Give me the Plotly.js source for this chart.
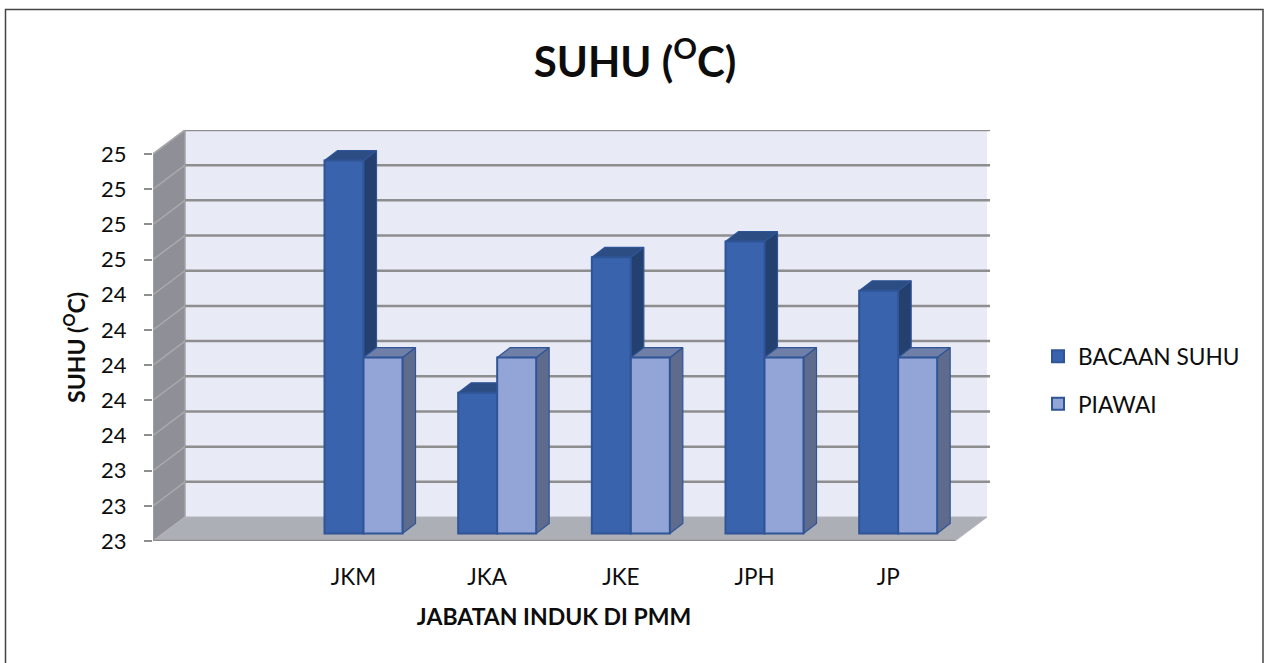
<!DOCTYPE html>
<html>
<head>
<meta charset="utf-8">
<script src="https://cdn.plot.ly/plotly-3.0.1.min.js"></script>
<style>html,body{margin:0;padding:0;background:#fff;overflow:hidden}</style>
</head>
<body>
<div id="chart" style="width:1265px;height:663px"></div>
<script>
// ---- data ----
const categories = ["", "JKM", "JKA", "JKE", "JPH", "JP"];
const bacaanSuhu = [null, 25.12, 23.8, 24.57, 24.66, 24.38];
const piawai = [null, 24, 24, 24, 24, 24];
const yTickVals = [23, 23.2, 23.4, 23.6, 23.8, 24, 24.2, 24.4, 24.6, 24.8, 25, 25.2];
const yTickText = ["23", "23", "23", "24", "24", "24", "24", "24", "25", "25", "25", "25"];

// ---- pseudo-3D geometry (pixels) ----
const W = 1265, H = 663;
const L = 153, R = 990, T = 130, B = 541;   // whole drawing box
const frontW = 802, frontH = 387;           // front plane of the box
const pxPerCat = frontW / categories.length, pxPerVal = frontH / 2.2;
const toX = px => px / pxPerCat, toY = px => px / pxPerVal;
const xMin = -0.5, yMin = 23;
const xFront = xMin + categories.length;
const yFrontTop = yTickVals[yTickVals.length - 1];
const xRangeFull = [xMin, xMin + toX(R - L)];
const yRangeFull = [yMin, yMin + toY(B - T)];
const wallDX = toX(32), wallDY = toY(24);
const barDX = toX(13), barDY = toY(10);
const planeDX = toX(10), planeDY = toY(7.5);
const barW = toX(39);

const gridColor = "#8e8e8e", edge = "#2f5597";
const poly = (xs, ys, fill, lc, lw) => ({
  type: "path", xref: "x", yref: "y", layer: "below",
  path: xs.map((x, i) => (i ? "L" : "M") + x + "," + ys[i]).join(" ") + " Z",
  fillcolor: fill, line: {color: lc, width: lw}
});
const seg = (x0, y0, x1, y1, c, w) => ({
  type: "line", xref: "x", yref: "y", layer: "below", x0, y0, x1, y1, line: {color: c, width: w}
});

const shapes = [
  // back wall
  poly([xMin + wallDX, xFront + wallDX, xFront + wallDX, xMin + wallDX],
       [yMin + wallDY, yMin + wallDY, yFrontTop + wallDY, yFrontTop + wallDY], "#e8eaf6", "#e8eaf6", 0),
  // side wall
  poly([xMin, xMin + wallDX, xMin + wallDX, xMin],
       [yMin, yMin + wallDY, yFrontTop + wallDY, yFrontTop], "#8f9097", "#a3a3a8", 1.5),
  // floor
  poly([xMin, xFront, xFront + wallDX, xMin + wallDX],
       [yMin, yMin, yMin + wallDY, yMin + wallDY], "#adafb6", "#b4b5ba", 1),
  seg(xMin, yMin, xFront, yMin, gridColor, 2.5)
];
yTickVals.forEach((v, i) => {
  if (i > 0) shapes.push(seg(xMin + wallDX, v + wallDY, xRangeFull[1], v + wallDY, gridColor, 2.5));
  if (i > 0) shapes.push(seg(xMin, v, xMin + wallDX, v + wallDY, "#a9a9ad", 1.5));
});
// outer frame of the picture
shapes.push({type: "path", xref: "paper", yref: "paper", layer: "below",
  path: "M" + (5.5 - L) / (R - L) + "," + (B - 668) / (B - T) +
        " L" + (5.5 - L) / (R - L) + "," + (B - 9.5) / (B - T) +
        " L" + (1263 - L) / (R - L) + "," + (B - 9.5) / (B - T) +
        " L" + (1263 - L) / (R - L) + "," + (B - 668) / (B - T),
  line: {color: "#444", width: 1.5}});

// faces of a bar series: side and top (drawn on the full box axes)
function faces(values, left, topColor, sideColor) {
  const tx = [], ty = [], sx = [], sy = [];
  values.forEach((v, i) => {
    if (v === null) return;
    const x0 = i + planeDX + left, x1 = x0 + barW;
    const y1 = v + planeDY, y0 = yMin + planeDY;
    tx.push(x0, x1, x1 + barDX, x0 + barDX, x0, null);
    ty.push(y1, y1, y1 + barDY, y1 + barDY, y1, null);
    sx.push(x1, x1 + barDX, x1 + barDX, x1, x1, null);
    sy.push(y0, y0 + barDY, y1 + barDY, y1, y0, null);
  });
  const face = (x, y, c) => ({type: "scatter", mode: "lines", x, y, fill: "toself", fillcolor: c,
    line: {color: edge, width: 1.2}, showlegend: false, hoverinfo: "skip", xaxis: "x", yaxis: "y"});
  return [face(sx, sy, sideColor), face(tx, ty, topColor)];
}
// front of a bar series: a real bar trace on the labelled front-plane axes
function fronts(name, values, left, color) {
  const idx = values.map((v, i) => v === null ? -1 : i).filter(i => i >= 0);
  return {
    type: "bar", name, legendgroup: name,
    x: idx.map(i => i + planeDX + left),
    y: idx.map(i => values[i] - yMin),
    base: idx.map(() => yMin + planeDY),
    width: barW, offset: 0,
    marker: {color, line: {color: edge, width: 2}},
    xaxis: "x2", yaxis: "y2"
  };
}

const data = [
  ...faces(bacaanSuhu, -barW, "#2c4d84", "#24406e"),
  ...faces(piawai, 0, "#6f7fa8", "#5f6b8c"),
  fronts("BACAAN SUHU", bacaanSuhu, -barW, "#3a63ad"),
  fronts("PIAWAI", piawai, 0, "#93a4d6")
];

const labelled = categories.map((c, i) => i).filter(i => categories[i] !== "");
const font = "Lato, 'Open Sans', sans-serif";
const ink = "#0d0d0d";
const layout = {
  width: W, height: H, autosize: false,
  margin: {l: L, r: W - R, t: T, b: H - B, pad: 0},
  paper_bgcolor: "#fff", plot_bgcolor: "rgba(0,0,0,0)",
  barmode: "overlay",
  font: {family: font, color: ink, size: 20},
  title: {text: "<b>SUHU (<sup>O</sup>C)</b>", font: {size: 42, family: font, color: ink},
          x: 635 / W, xanchor: "center", y: 1 - 62 / H, yanchor: "middle"},
  // full box axes: only carry the walls, grid and bar faces
  xaxis: {domain: [0, 1], range: xRangeFull, visible: false, fixedrange: true, anchor: "y"},
  yaxis: {domain: [0, 1], range: yRangeFull, visible: false, fixedrange: true, anchor: "x"},
  // front-plane axes: labels, ticks, titles and the bars
  xaxis2: {domain: [0, frontW / (R - L)], range: [xMin, xFront], anchor: "y2",
          tickmode: "array", tickvals: labelled, ticktext: labelled.map(i => categories[i]),
          ticks: "", showgrid: false, zeroline: false, showline: false, ticklabelstandoff: 20,
          tickfont: {size: 22.5}, automargin: false,
          title: {text: "<b>JABATAN INDUK DI PMM</b>", font: {size: 23}, standoff: 20}},
  yaxis2: {domain: [0, frontH / (B - T)], range: [yMin, yFrontTop], anchor: "x2",
          tickmode: "array", tickvals: yTickVals, ticktext: yTickText,
          ticks: "outside", ticklen: 8, tickwidth: 2, tickcolor: gridColor, ticklabelstandoff: 13,
          showgrid: false, zeroline: false, showline: false, tickfont: {size: 22}, automargin: false,
          title: {text: "<b>SUHU (<sup>O</sup>C)</b>", font: {size: 23}, standoff: 9}},
  showlegend: true,
  legend: {x: (1038 - L) / (R - L), xanchor: "left", y: (B - 335) / (B - T), yanchor: "top",
           font: {size: 22.7}, tracegroupgap: 15, bgcolor: "rgba(0,0,0,0)", traceorder: "grouped"},
  shapes
};
Plotly.newPlot("chart", data, layout, {displayModeBar: false, staticPlot: true});
</script>
</body>
</html>
